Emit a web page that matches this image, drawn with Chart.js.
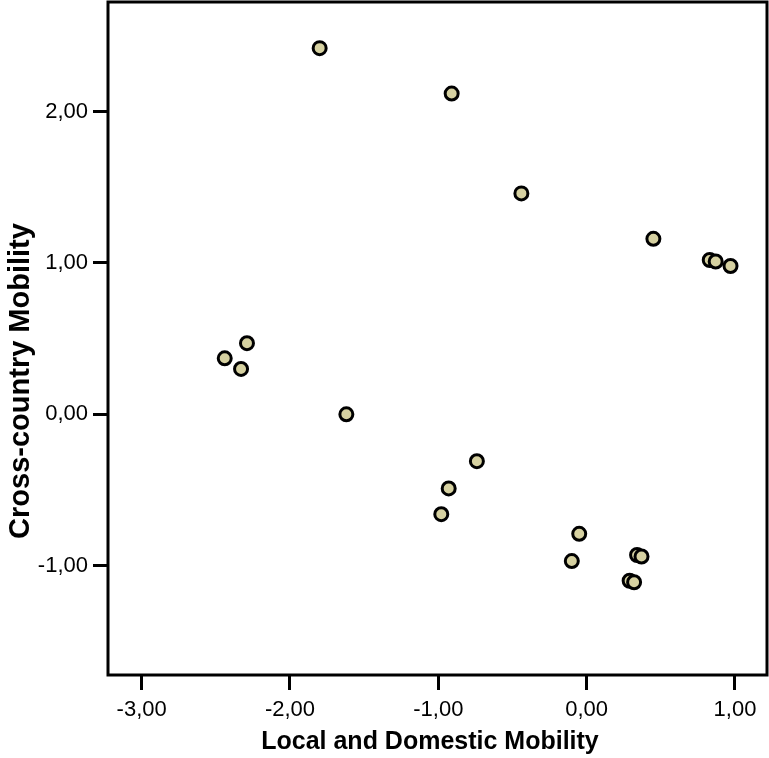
<!DOCTYPE html>
<html>
<head>
<meta charset="utf-8">
<script src="https://cdn.jsdelivr.net/npm/chart.js@4.4.1/dist/chart.umd.min.js"></script>
<style>
    body { margin: 0; background: #fff; }
    #wrap { width: 769px; height: 758px; }
</style>
</head>
<body>
<div id="wrap"><canvas id="scatterChart" width="769" height="758"></canvas></div>
<script>
// values
const localMobility = [-1.80, -0.91, -0.44, 0.45, 0.83, 0.87, 0.97, -2.29, -2.44, -2.33,
    -1.62, -0.74, -0.93, -0.98, -0.05, -0.10, 0.34, 0.37, 0.29, 0.32];
const crossMobility = [2.42, 2.12, 1.46, 1.16, 1.02, 1.01, 0.98, 0.47, 0.37, 0.30,
    0.00, -0.31, -0.49, -0.66, -0.79, -0.97, -0.93, -0.94, -1.10, -1.11];
const xTicks = [-3, -2, -1, 0, 1];
const yTicks = [-1, 0, 1, 2];
const xTitle = 'Local and Domestic Mobility';
const yTitle = 'Cross-country Mobility';

const points = localMobility.map((x, i) => ({ x: x, y: crossMobility[i] }));

function commaLabel(v) {
    return Number(v).toFixed(2).replace('.', ',');
}

// frame round the plot area and the two axis titles
const framePlugin = {
    id: 'frame',
    afterDraw(chart) {
        const ctx = chart.ctx;
        const a = chart.chartArea;
        ctx.save();
        ctx.strokeStyle = '#000';
        ctx.lineWidth = 3;
        ctx.strokeRect(a.left, a.top, a.right - a.left, a.bottom - a.top);

        ctx.fillStyle = '#000';
        ctx.font = 'bold 25px "Liberation Sans", Arial, sans-serif';
        ctx.textAlign = 'center';
        ctx.textBaseline = 'middle';
        ctx.fillText(xTitle, 430, 742);

        ctx.font = 'bold 29px "Liberation Sans", Arial, sans-serif';
        ctx.translate(21, 381);
        ctx.rotate(-Math.PI / 2);
        ctx.fillText(yTitle, 0, 0);
        ctx.restore();
    }
};

const tickFont = { family: '"Liberation Sans", Arial, sans-serif', size: 22 };

new Chart(document.getElementById('scatterChart').getContext('2d'), {
    type: 'scatter',
    data: {
        datasets: [{
            data: points,
            backgroundColor: '#d6d1a1',
            borderColor: '#000',
            pointRadius: 6.5,
            pointBorderWidth: 3,
            pointHoverRadius: 6.5
        }]
    },
    options: {
        responsive: false,
        animation: false,
        events: [],
        layout: { autoPadding: false, padding: { top: 2, right: 2 } },
        plugins: { legend: { display: false }, tooltip: { enabled: false } },
        scales: {
            x: {
                type: 'linear',
                min: -3.227,
                max: 1.216,
                afterBuildTicks: s => { s.ticks = xTicks.map(v => ({ value: v })); },
                afterFit: s => { s.height = 83; s.paddingLeft = 0; s.paddingRight = 0; },
                ticks: { color: '#000', font: tickFont, padding: 7, maxRotation: 0, callback: commaLabel },
                grid: { drawOnChartArea: false, drawTicks: true, tickLength: 15, lineWidth: 3, tickWidth: 3, color: '#000', tickColor: '#000' },
                border: { display: false }
            },
            y: {
                type: 'linear',
                min: -1.723,
                max: 2.725,
                afterBuildTicks: s => { s.ticks = yTicks.map(v => ({ value: v })); },
                afterFit: s => { s.width = 108; s.paddingTop = 0; s.paddingBottom = 0; },
                ticks: { color: '#000', font: tickFont, padding: 5, callback: commaLabel },
                grid: { drawOnChartArea: false, drawTicks: true, tickLength: 15, lineWidth: 3, tickWidth: 3, color: '#000', tickColor: '#000' },
                border: { display: false }
            }
        }
    },
    plugins: [framePlugin]
});
</script>
</body>
</html>
